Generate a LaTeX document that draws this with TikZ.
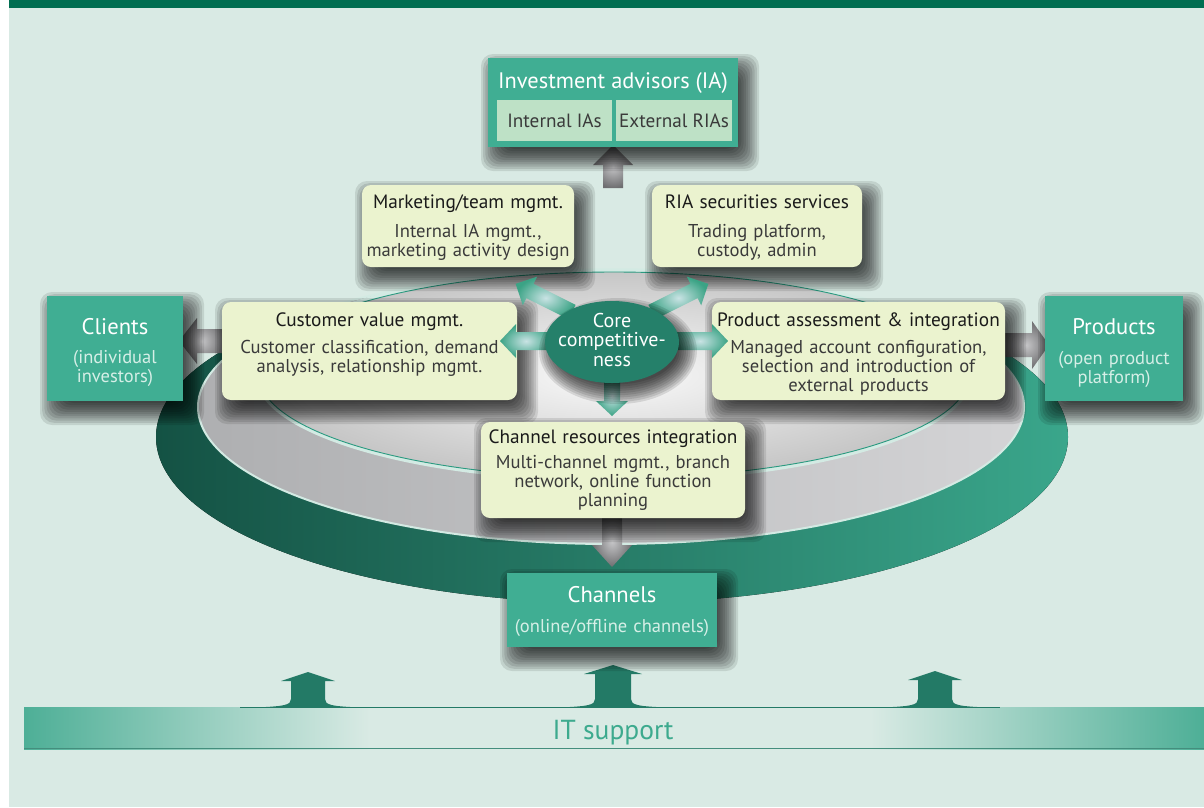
\documentclass[tikz,border=0pt]{standalone}
\usepackage{fontspec}
\setmainfont{PT Sans}
\usetikzlibrary{shapes.geometric}
\definecolor{bg}{HTML}{D9EAE4}
\definecolor{topbar}{HTML}{006E51}
\definecolor{tealc}{HTML}{40AE93}
\definecolor{subbox}{HTML}{BEE1C6}
\definecolor{ybox}{HTML}{EBF3CF}
\definecolor{coreg}{HTML}{25806A}
\definecolor{ringdark}{HTML}{145244}
\definecolor{ringlight}{HTML}{3AA68B}
\definecolor{titlec}{HTML}{1A1A1A}
\definecolor{bodyc}{HTML}{3A3A3A}
\definecolor{subw}{HTML}{D6EFE7}
\definecolor{itgreen}{HTML}{237A66}
\definecolor{ittext}{HTML}{3DAA8E}
\definecolor{mint}{HTML}{D3EAE3}
\definecolor{thinteal}{HTML}{2A9A80}
\definecolor{graya}{HTML}{AEAFB1}
\definecolor{grayb}{HTML}{D4D4D6}
\definecolor{arrowin}{HTML}{C6C6C8}
\definecolor{arrowout}{HTML}{6E6E70}
\definecolor{garrowin}{HTML}{C9E3E4}
\definecolor{garrowout}{HTML}{3BA385}
\newcommand\ttlfont{\fontsize{19.3}{19}\selectfont}
\newcommand\bigttl{\fontsize{22.6}{20}\selectfont}
% soft drop shadow: centre x, centre y, width, height
\newcommand\boxshadow[4]{%
  \foreach \i in {0,...,11}{%
    \fill[black,opacity=0.1,rounded corners=12pt]
      ({#1+7-#3/2-14+2.2*\i},{#2+10-#4/2-14+2.2*\i}) rectangle ({#1+7+#3/2+14-2.2*\i},{#2+10+#4/2+14-2.2*\i});}}
\newcommand\ellshadow[4]{%
  \foreach \i in {0,...,9}{%
    \fill[black,opacity=0.11] ({#1+6},{#2+9}) ellipse [x radius={#3+12-2.2*\i}, y radius={#4+12-2.2*\i}];}}
\tikzset{
  tealbox/.style={fill=tealc, inner sep=0},
  yelbox/.style={fill=ybox, rounded corners=9pt, inner sep=0},
  subbx/.style={fill=subbox, inner sep=0, text=bodyc, font=\fontsize{19.2}{19}\selectfont},
  ytext/.style={text width=#1, align=center, inner sep=0, anchor=base, text=bodyc, font=\fontsize{18.6}{19}\selectfont},
  wtext/.style={text width=#1, align=center, inner sep=0, anchor=base, text=subw, font=\fontsize{18.5}{19}\selectfont},
  gshade/.style={shading=radial, inner color=arrowin, outer color=arrowout},
  grshade/.style={shading=radial, inner color=garrowin, outer color=garrowout},
  pics/barrow/.style args={#1/#2/#3/#4/#5}{code={
    \path[#5] (0,-#3) -- ({#1-#2},-#3) -- ({#1-#2},-#4) -- (#1,0) -- ({#1-#2},#4) -- ({#1-#2},#3) -- (0,#3) -- cycle;
  }},
  pics/itarrow/.style args={#1/#2/#3}{code={
    \fill[itgreen] (-#2,{#1+9}) -- (0,#1) -- (#2,{#1+9}) -- (#3,{#1+9}) -- (#3,699)
      .. controls (#3,705) and ({#3+6},706.5) .. ({#3+40},707.6) -- ({-#3-40},707.6)
      .. controls ({-#3-6},706.5) and (-#3,705) .. (-#3,699) -- (-#3,{#1+9}) -- cycle;
  }}
}
\begin{document}
\begin{tikzpicture}[x=1pt,y=-1pt]
\useasboundingbox (0,0) rectangle (1204,807);
% background
\fill[white] (0,0) rectangle (1204,807);
\fill[bg] (9,0) rectangle (1204,807);
\fill[topbar] (9,0) rectangle (1204,8);

% big ring and discs
\fill[left color=ringdark, right color=ringlight] (612,437) ellipse [x radius=456pt, y radius=166pt];
\fill[left color=graya, right color=grayb] (611,407) ellipse [x radius=413pt, y radius=137pt];
\draw[mint, line width=2pt] (611,407) ellipse [x radius=413pt, y radius=137pt];
\fill[shading=radial, inner color=white!96!gray, outer color=gray!45] (614,375) ellipse [x radius=356pt, y radius=104pt];
\draw[mint, line width=3.5pt] (614,375) ellipse [x radius=357pt, y radius=105pt];
\draw[thinteal, line width=0.9pt] (614,375) ellipse [x radius=355pt, y radius=103pt];

% IT support band
\shade[left color=ringlight!90!white, right color=bg] (24,707) rectangle (370,749);
\shade[left color=bg, right color=ringlight!90!white] (870,707) rectangle (1204,749);
\draw[itgreen!85!white, line width=1pt] (24,748.5) -- (1204,748.5);
\draw[itgreen, line width=1.1pt] (240,707.6) -- (1000,707.6);
\pic at (308,0) {itarrow=672/27/17};
\pic at (613,0) {itarrow=665/29/18};
\pic at (935,0) {itarrow=671/27/17};
\node[anchor=base, text=ittext, font=\fontsize{27.5}{28}\selectfont, inner sep=0] (it) at (613,739) {IT support};

% gray arrows
\pic[rotate=90] at (613,188) {barrow=43/20/10/20/gshade};
\pic[rotate=-90] at (612,516) {barrow=51/22/10/20/gshade};
\pic[rotate=180] at (224,341) {barrow=45/18/12/23/gshade};
\pic at (1003,345) {barrow=46/17/12/24/gshade};

% shadows
\boxshadow{613}{102.5}{250}{89}
\boxshadow{468}{226}{212}{82}
\boxshadow{757}{226}{210}{82}
\boxshadow{369.5}{351}{295}{98}
\boxshadow{858.5}{351}{293}{98}
\boxshadow{613}{470}{264}{96}
\boxshadow{115}{348.5}{136}{105}
\boxshadow{1114}{348.5}{138}{105}
\boxshadow{612}{610}{210}{74}

% investment advisors
\node[tealbox, minimum width=250pt, minimum height=89pt] (ia) at (613,102.5) {};
\node[anchor=base, text=white, font=\fontsize{22.4}{22}\selectfont, inner sep=0] (iat) at (613,88) {Investment advisors (IA)};
\node[subbx, minimum width=115pt, minimum height=41pt] (int) at (554.5,120.5) {Internal IAs};
\node[subbx, minimum width=116pt, minimum height=41pt] (ext) at (674,120.5) {External RIAs};

% yellow boxes
\node[yelbox, minimum width=212pt, minimum height=82pt] (mkt) at (468,226) {};
\node[ytext=212pt] (mktt) at (468,208) {{\color{titlec}\ttlfont Marketing/team mgmt.}\\[10pt]Internal IA mgmt.,\\marketing activity design};
\node[yelbox, minimum width=210pt, minimum height=82pt] (ria) at (757,226) {};
\node[ytext=210pt] (riat) at (757,208) {{\color{titlec}\ttlfont RIA securities services}\\[10pt]Trading platform,\\custody, admin};
\node[yelbox, minimum width=295pt, minimum height=98pt] (cust) at (369.5,351) {};
\node[ytext=295pt] (custt) at (369.5,326) {{\color{titlec}\ttlfont Customer value mgmt.}\\[8pt]Customer classification, demand\\analysis, relationship mgmt.};
\node[yelbox, minimum width=293pt, minimum height=98pt] (prod) at (858.5,351) {};
\node[ytext=293pt] (prodt) at (858.5,326) {{\color{titlec}\ttlfont Product assessment \& integration}\\[8pt]Managed account configuration,\\selection and introduction of\\external products};
\node[yelbox, minimum width=264pt, minimum height=96pt] (chan) at (613,470) {};
\node[ytext=264pt] (chant) at (613,443) {{\color{titlec}\ttlfont Channel resources integration}\\[6pt]Multi-channel mgmt., branch\\network, online function\\planning};

% teal boxes
\node[tealbox, minimum width=136pt, minimum height=105pt] (cli) at (115,348.5) {};
\node[wtext=136pt] (clit) at (115,334) {{\color{white}\bigttl Clients}\\[10pt](individual\\investors)};
\node[tealbox, minimum width=138pt, minimum height=105pt] (prd) at (1114,348.5) {};
\node[wtext=138pt] (prdt) at (1114,334) {{\color{white}\bigttl Products}\\[11pt](open product\\platform)};
\node[tealbox, minimum width=210pt, minimum height=74pt] (chs) at (612,610) {};
\node[wtext=210pt] (chst) at (612,602) {{\color{white}\bigttl Channels}\\[11pt](online/offline channels)};

% green arrows from core
\pic[rotate=180] at (552,341) {barrow=52/16/9/17/grshade};
\pic at (672,341) {barrow=56/16/9/17/grshade};
\pic[rotate=-90] at (612,376) {barrow=40/15/8/16/grshade};
\pic[rotate=153.4] at (572,312) {barrow=63/16/8/16/grshade};
\pic[rotate=26.6] at (652,312) {barrow=63/16/8/16/grshade};

% core
\ellshadow{612}{342}{67}{41}
\node[ellipse, fill=coreg, minimum width=134pt, minimum height=82pt, inner sep=0] (core) at (612,342) {};
\node[text width=134pt, align=center, anchor=base, inner sep=0, text=white, font=\fontsize{20}{19.5}\selectfont] (coret) at (612,327) {Core\\competitive-\\ness};
\end{tikzpicture}
\end{document}
